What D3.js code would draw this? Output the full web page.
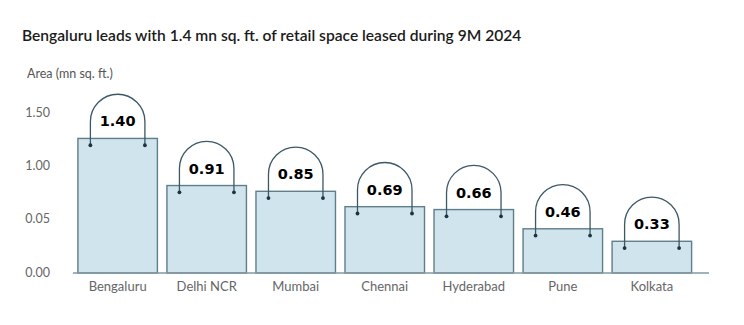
<!DOCTYPE html>
<meta charset="utf-8">
<style>
  body { margin: 0; background: #fff; }
  svg { display: block; }
</style>
<body>
<script src="https://cdnjs.cloudflare.com/ajax/libs/d3/7.8.5/d3.min.js"></script>
<script>
var cities = ["Bengaluru", "Delhi NCR", "Mumbai", "Chennai", "Hyderabad", "Pune", "Kolkata"];
var leased = [1.40, 0.91, 0.85, 0.69, 0.66, 0.46, 0.33];
var tickLabels = ["0.00", "0.05", "1.00", "1.50"];

var width = 744, height = 325;
var baseY = 273, topY = 112;

var svg = d3.select("body").append("svg")
  .attr("width", width)
  .attr("height", height);

// title + unit label
svg.append("text")
  .attr("x", 22)
  .attr("y", 41)
  .attr("font-family", "Lato, sans-serif")
  .attr("font-weight", 600)
  .attr("font-size", 15.6)
  .attr("fill", "#1b1b1b")
  .text("Bengaluru leads with 1.4 mn sq. ft. of retail space leased during 9M 2024");

svg.append("text")
  .attr("x", 27)
  .attr("y", 78)
  .attr("font-family", "Lato, sans-serif")
  .attr("font-size", 12.5)
  .attr("fill", "#555")
  .text("Area (mn sq. ft.)");

var x = d3.scaleBand()
  .domain(cities)
  .range([73, 696.5])
  .paddingInner(0.107)
  .paddingOuter(0.055);

var y = d3.scaleLinear()
  .domain([0, 1.675])
  .range([baseY, topY]);

// left labels sit evenly spaced up the axis
var tickPos = d3.scalePoint()
  .domain(tickLabels)
  .range([272, 112]);

var yAxis = svg.append("g")
  .attr("transform", "translate(54,0)")
  .call(d3.axisLeft(tickPos).tickSize(0).tickPadding(4));
yAxis.select(".domain").remove();
yAxis.selectAll("text")
  .attr("font-family", "Lato, sans-serif")
  .attr("font-size", 12.5)
  .attr("fill", "#666");

var data = cities.map(function(c, i) { return { city: c, value: leased[i] }; });

var bars = svg.append("g")
  .selectAll("g")
  .data(data)
  .enter().append("g");

bars.append("rect")
  .attr("x", function(d) { return x(d.city); })
  .attr("y", function(d) { return y(d.value); })
  .attr("width", x.bandwidth())
  .attr("height", function(d) { return baseY - y(d.value); })
  .attr("fill", "#cfe4ec")
  .attr("stroke", "#5f7e8a")
  .attr("stroke-width", 1.4);

// bag handle over each bar
var inset = 12.5;
function handle(d) {
  var x1 = x(d.city) + inset,
      x2 = x(d.city) + x.bandwidth() - inset,
      yd = y(d.value) + 6.8,
      r = (x2 - x1) / 2,
      top = yd - 51;
  return "M" + x1 + "," + yd + "V" + (top + r) +
    "A" + r + "," + r + " 0 0 1 " + x2 + "," + (top + r) + "V" + yd;
}

bars.append("path")
  .attr("d", handle)
  .attr("fill", "none")
  .attr("stroke", "#3d5866")
  .attr("stroke-width", 1.3);

bars.selectAll("circle")
  .data(function(d) { return [
    { cx: x(d.city) + inset, cy: y(d.value) + 6.8 },
    { cx: x(d.city) + x.bandwidth() - inset, cy: y(d.value) + 6.8 }
  ]; })
  .enter().append("circle")
  .attr("cx", function(d) { return d.cx; })
  .attr("cy", function(d) { return d.cy; })
  .attr("r", 1.9)
  .attr("fill", "#1d3340");

bars.append("text")
  .attr("x", function(d) { return x(d.city) + x.bandwidth() / 2; })
  .attr("y", function(d) { return y(d.value) - 12; })
  .attr("text-anchor", "middle")
  .attr("font-family", "DejaVu Sans, sans-serif")
  .attr("font-weight", "bold")
  .attr("font-size", 14.5)
  .attr("fill", "#000")
  .text(function(d) { return d.value.toFixed(2); });

// baseline
svg.append("line")
  .attr("x1", 73).attr("x2", 709)
  .attr("y1", baseY).attr("y2", baseY)
  .attr("stroke", "#8299a3")
  .attr("stroke-width", 1.5);

var xAxis = svg.append("g")
  .attr("transform", "translate(0," + baseY + ")")
  .call(d3.axisBottom(x).tickSize(0).tickPadding(9));
xAxis.select(".domain").remove();
xAxis.selectAll("text")
  .attr("font-family", "Lato, sans-serif")
  .attr("font-size", 13)
  .attr("fill", "#666");
</script>
</body>
